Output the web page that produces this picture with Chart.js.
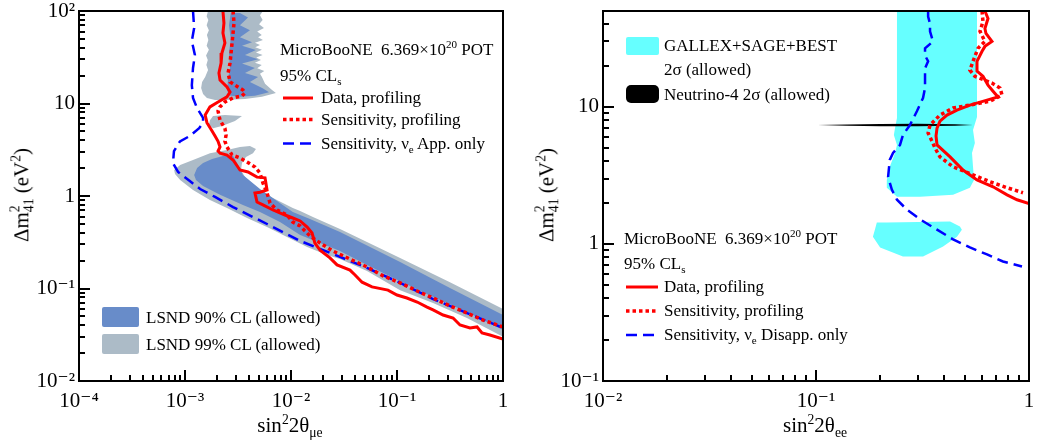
<!DOCTYPE html>
<html>
<head>
<meta charset="utf-8">
<script src="https://cdn.jsdelivr.net/npm/chart.js@4.4.1/dist/chart.umd.min.js"></script>
<style>
  body { margin: 0; background: #fff; }
  #wrap { position: relative; width: 1040px; height: 446px; overflow: hidden;
          font-family: 'Liberation Serif', 'Times New Roman', serif; color: #000; }
  canvas { position: absolute; top: 0; }
  .t { position: absolute; white-space: nowrap; font-size: 17px; line-height: 17px; }
  .ax { position: absolute; white-space: nowrap; font-size: 21px; line-height: 21px; }
  sup, sub { font-size: 65%; line-height: 0; }
  .ss { display: inline-block; vertical-align: -5px; font-size: 65%; line-height: 1; text-align: left; }
  .ss span { display: block; }
  .sw { position: absolute; }
  .key { position: absolute; left: 0; top: 0; pointer-events: none; }
</style>
</head>
<body>
<div id="wrap">
  <canvas id="appChart" width="520" height="446" style="left:0"></canvas>
  <canvas id="disChart" width="520" height="446" style="left:520px"></canvas>

  <!-- axis titles -->
  <div class="ax" style="left:22px;top:195px;transform:translate(-50%,-50%) rotate(-90deg)">&Delta;m<span class="ss"><span>2</span><span>41</span></span> (eV<sup>2</sup>)</div>
  <div class="ax" style="left:547px;top:195px;transform:translate(-50%,-50%) rotate(-90deg)">&Delta;m<span class="ss"><span>2</span><span>41</span></span> (eV<sup>2</sup>)</div>
  <div class="ax" style="left:290px;top:415px;transform:translateX(-50%)">sin<sup>2</sup>2&theta;<sub>&mu;e</sub></div>
  <div class="ax" style="left:815px;top:415px;transform:translateX(-50%)">sin<sup>2</sup>2&theta;<sub>ee</sub></div>

  <!-- left legend -->
  <div class="t" style="left:280px;top:41px">MicroBooNE&nbsp;&nbsp;6.369&times;10<sup>20</sup> POT</div>
  <div class="t" style="left:280px;top:67px">95% CL<sub>s</sub></div>
  <div class="t" style="left:321px;top:89px">Data, profiling</div>
  <div class="t" style="left:321px;top:111px">Sensitivity, profiling</div>
  <div class="t" style="left:321px;top:135px">Sensitivity, &nu;<sub>e</sub> App. only</div>
  <div class="sw" style="left:102px;top:307px;width:37px;height:20px;background:rgb(104,140,201);border-radius:2px"></div>
  <div class="t" style="left:146px;top:309px">LSND 90% CL (allowed)</div>
  <div class="sw" style="left:102px;top:334px;width:37px;height:20px;background:rgb(172,187,199);border-radius:2px"></div>
  <div class="t" style="left:146px;top:336px">LSND 99% CL (allowed)</div>

  <!-- right legend -->
  <div class="sw" style="left:626px;top:37px;width:33px;height:18px;background:rgb(102,255,255);border-radius:2px"></div>
  <div class="t" style="left:664px;top:37px">GALLEX+SAGE+BEST</div>
  <div class="t" style="left:664px;top:61px">2&sigma; (allowed)</div>
  <div class="sw" style="left:626px;top:85px;width:33px;height:18px;background:#000;border-radius:5px"></div>
  <div class="t" style="left:664px;top:86px">Neutrino-4 2&sigma; (allowed)</div>
  <div class="t" style="left:624px;top:230px">MicroBooNE&nbsp;&nbsp;6.369&times;10<sup>20</sup> POT</div>
  <div class="t" style="left:624px;top:255px">95% CL<sub>s</sub></div>
  <div class="t" style="left:664px;top:278px">Data, profiling</div>
  <div class="t" style="left:664px;top:302px">Sensitivity, profiling</div>
  <div class="t" style="left:664px;top:326px">Sensitivity, &nu;<sub>e</sub> Disapp. only</div>

  <svg class="key" id="key" width="1040" height="446">
    <line x1="283" y1="98" x2="313" y2="98" stroke="#ff0000" stroke-width="3"/>
    <line x1="283" y1="119.5" x2="313" y2="119.5" stroke="#ff0000" stroke-width="3.5" stroke-dasharray="3.5 3"/>
    <line x1="283" y1="143.5" x2="313" y2="143.5" stroke="#0000ff" stroke-width="2.5" stroke-dasharray="11 6"/>
    <line x1="626" y1="287" x2="658" y2="287" stroke="#ff0000" stroke-width="3"/>
    <line x1="626" y1="311" x2="658" y2="311" stroke="#ff0000" stroke-width="3.5" stroke-dasharray="3.5 3"/>
    <line x1="626" y1="335" x2="658" y2="335" stroke="#0000ff" stroke-width="2.5" stroke-dasharray="11 6"/>
  </svg>
</div>

<script>
// ---- nu_e appearance panel (sin^2 2theta_mue, dm2_41) ----
const lsnd99Band = [[7.9e-4,1.91],[9.0e-4,2.16],[1.19e-3,2.45],[1.72e-3,2.9],[2.49e-3,3.14],[3.3e-3,3.39],
  [4.1e-3,3.47],[4.67e-3,3.22],[4.38e-3,2.9],[3.76e-3,2.64],[3.45e-3,2.27],[3.37e-3,1.91],[3.68e-3,1.6],
  [4.78e-3,1.22],[6.76e-3,0.95],[1.04e-2,0.741],[1.22e-2,0.689],[1.61e-2,0.593],[2.9e-2,0.44],[0.107,0.214],
  [0.316,0.117],[1.0,0.06],[1.0,0.03],[0.457,0.048],[0.219,0.0697],[0.107,0.096],[5.21e-2,0.155],
  [2.9e-2,0.208],[2.19e-2,0.23],[1.42e-2,0.281],[9.17e-3,0.36],[5.94e-3,0.462],[3.85e-3,0.578],
  [2.49e-3,0.741],[1.72e-3,0.906],[1.19e-3,1.16],[9.0e-4,1.49],[8.05e-4,1.73]];
const lsnd99Top = [[1.65e-3,100],[1.6e-3,88],[1.66e-3,80],[1.6e-3,70],[1.68e-3,62],[1.61e-3,55],
  [1.66e-3,48.5],[1.6e-3,42],[1.68e-3,38],[1.58e-3,33],[1.64e-3,29.5],[1.59e-3,26],[1.65e-3,23],
  [1.55e-3,19.3],[1.45e-3,17.1],[1.42e-3,14.7],[1.48e-3,12.7],[1.61e-3,11.5],[1.92e-3,10.9],[2.38e-3,10.9],
  [3.68e-3,11.2],[5.32e-3,11.8],[7.21e-3,13.0],[6.62e-3,14.0],[5.69e-3,16.3],[5.32e-3,19.3],[5.1e-3,21],
  [5.6e-3,22.5],[4.8e-3,24],[5.3e-3,26],[4.57e-3,27.5],[5.21e-3,29.5],[4.7e-3,31.5],[5.4e-3,33.4],
  [4.67e-3,35.5],[5.32e-3,38],[4.6e-3,40.5],[5.1e-3,42.9],[4.57e-3,45.5],[5.44e-3,48.5],[4.89e-3,52],
  [5.3e-3,55],[4.8e-3,60],[5.56e-3,65.5],[5.0e-3,72],[5.4e-3,80],[5.1e-3,90],[5.44e-3,100]];
const lsnd99Sliver = [[1.72e-3,6.6],[1.84e-3,7.33],[2.38e-3,7.5],[3.45e-3,7.33],[2.96e-3,6.47],
  [2.23e-3,5.71],[1.84e-3,5.4],[1.68e-3,5.9]];
const lsnd90Band = [[1.22e-3,1.69],[1.3e-3,2.01],[1.48e-3,2.27],[1.8e-3,2.51],[2.28e-3,2.7],[2.84e-3,2.7],
  [3.1e-3,2.27],[3.52e-3,1.69],[5.1e-3,1.19],[7.38e-3,0.883],[1.04e-2,0.671],[1.51e-2,0.564],[2.9e-2,0.408],
  [0.107,0.193],[0.316,0.101],[1.0,0.0517],[1.0,0.0356],[0.457,0.0557],[0.219,0.081],[0.107,0.12],
  [5.21e-2,0.18],[2.9e-2,0.254],[1.88e-2,0.31],[1.22e-2,0.379],[7.87e-3,0.523],[5.1e-3,0.671],[3.52e-3,0.8],
  [2.14e-3,1.03],[1.48e-3,1.28],[1.27e-3,1.49]];
const lsnd90Top = [[2.7e-3,95],[2.6e-3,70],[2.7e-3,50],[2.6e-3,35],[2.66e-3,24],[2.55e-3,19],[2.5e-3,14],
  [2.6e-3,12.2],[3.3e-3,11.8],[4.57e-3,12.1],[6.2e-3,13.2],[5.4e-3,14.6],[4.1e-3,17.1],[4.89e-3,19.3],
  [3.68e-3,21.4],[4.57e-3,24.2],[3.45e-3,27],[4.89e-3,30],[3.68e-3,33.4],[4.67e-3,37.9],[3.45e-3,42],
  [4.29e-3,46],[3.3e-3,52],[4.1e-3,62],[3.3e-3,70],[3.93e-3,85],[3.3e-3,95]];
const appData = [[2.28e-3,100],[2.33e-3,74.1],[2.28e-3,57.8],[2.38e-3,45.1],[2.23e-3,35.2],[2.19e-3,27.4],
  [2.09e-3,21.4],[2.14e-3,17.9],[2.49e-3,15.1],[2.66e-3,13.3],[2.49e-3,11.8],[2.05e-3,10.4],[1.72e-3,9.2],
  [1.55e-3,7.5],[1.61e-3,6.2],[1.8e-3,5.05],[1.92e-3,4.45],[2.05e-3,3.9],[2.14e-3,3.39],[2.05e-3,3.06],
  [2.14e-3,2.9],[2.49e-3,2.77],[2.84e-3,2.45],[3.3e-3,1.91],[3.93e-3,1.82],[4.78e-3,1.6],[5.69e-3,1.57],
  [5.94e-3,1.16],[5.1e-3,1.1],[4.57e-3,1.08],[4.78e-3,0.861],[5.44e-3,0.8],[6.76e-3,0.706],[8.78e-3,0.623],
  [1.04e-2,0.578],[1.22e-2,0.537],[1.42e-2,0.462],[1.58e-2,0.398],[1.68e-2,0.31],[1.88e-2,0.26],
  [2.33e-2,0.214],[2.72e-2,0.18],[3.6e-2,0.158],[4.02e-2,0.14],[4.68e-2,0.117],[5.81e-2,0.104],
  [8.22e-2,0.096],[0.1,0.085],[0.124,0.0789],[0.155,0.0714],[0.192,0.063],[0.219,0.0586],[0.272,0.0517],
  [0.338,0.048],[0.393,0.0403],[0.488,0.0374],[0.569,0.0384],[0.634,0.033],[0.753,0.0314],[1.0,0.0284]];
const appSens = [[2.84e-3,100],[2.9e-3,74.1],[2.84e-3,57.8],[2.78e-3,45.1],[2.72e-3,35.2],[2.66e-3,27.4],
  [2.55e-3,21.4],[2.66e-3,17.1],[3.16e-3,15.1],[3.52e-3,14.0],[3.68e-3,13.0],[3.45e-3,12.1],[2.84e-3,11.5],
  [2.38e-3,10.4],[2.14e-3,9.2],[2.05e-3,8.3],[2.14e-3,6.6],[2.38e-3,5.4],[2.44e-3,4.56],[2.38e-3,3.9],
  [2.49e-3,3.39],[2.78e-3,2.77],[3.3e-3,2.58],[3.85e-3,2.33],[4.57e-3,2.06],[5.1e-3,1.77],[5.44e-3,1.38],
  [5.94e-3,1.08],[6.34e-3,0.84],[7.38e-3,0.706],[9.17e-3,0.623],[1.04e-2,0.523],[1.22e-2,0.474],
  [1.51e-2,0.37],[1.88e-2,0.31],[2.49e-2,0.254],[3.6e-2,0.208],[5.21e-2,0.171],[7.38e-2,0.137],
  [0.107,0.115],[0.155,0.094],[0.219,0.0789],[0.316,0.0647],[0.457,0.0543],[0.648,0.0456],[1.0,0.0384]];
const appOnly = [[1.19e-3,100],[1.22e-3,65.5],[1.16e-3,47.4],[1.24e-3,33.4],[1.19e-3,24.2],[1.16e-3,15.8],
  [1.19e-3,11.5],[1.3e-3,8.9],[1.48e-3,7.0],[1.48e-3,6.2],[1.36e-3,5.4],[1.11e-3,4.45],[8.97e-4,3.9],
  [7.87e-4,3.06],[7.7e-4,2.27],[8.6e-4,1.82],[1.11e-3,1.45],[1.39e-3,1.19],[1.92e-3,0.976],[2.84e-3,0.76],
  [5.94e-3,0.498],[1.22e-2,0.327],[2.49e-2,0.236],[5.21e-2,0.167],[0.107,0.115],[0.219,0.0769],
  [0.457,0.0543],[1.0,0.0374]];

// ---- nu_e disappearance panel (sin^2 2theta_ee, dm2_41) ----
const gallexMain = [[0.24,50],[0.24,8.28],[0.235,7.0],[0.232,6.23],[0.24,5.27],[0.235,4.61],[0.222,3.65],
  [0.215,2.93],[0.215,2.57],[0.24,2.21],[0.308,2.21],[0.44,2.28],[0.528,2.57],[0.552,2.93],[0.546,3.65],
  [0.54,4.61],[0.557,5.45],[0.546,6.77],[0.57,8.42],[0.57,50]];
const gallexLow = [[0.193,1.43],[0.215,1.43],[0.426,1.46],[0.474,1.34],[0.484,1.27],[0.459,1.13],
  [0.395,0.957],[0.318,0.81],[0.256,0.81],[0.2,0.942],[0.185,1.13],[0.189,1.27]];
const neutrino4 = [[0.102,7.36],[0.14,7.44],[0.2,7.5],[0.3,7.52],[0.45,7.47],[0.546,7.38],[0.45,7.27],
  [0.3,7.21],[0.2,7.22],[0.14,7.28]];
const disData = [[0.621,50],[0.642,44.1],[0.621,37.3],[0.628,34.3],[0.67,30.0],[0.621,27.6],[0.602,25.4],
  [0.57,21.5],[0.57,18.2],[0.608,16.7],[0.642,14.4],[0.678,13.0],[0.715,11.8],[0.635,11.2],[0.528,10.3],
  [0.459,9.47],[0.412,8.71],[0.382,7.87],[0.37,7.0],[0.366,6.13],[0.37,5.27],[0.426,4.31],[0.49,3.46],
  [0.57,2.93],[0.678,2.61],[0.789,2.28],[0.879,2.1],[1.0,1.97]];
const disSens = [[0.602,50],[0.608,41.9],[0.589,35.5],[0.621,30.0],[0.576,26.7],[0.546,21.5],[0.528,18.5],
  [0.557,16.7],[0.67,14.9],[0.731,13.7],[0.747,12.2],[0.656,11.0],[0.528,10.3],[0.44,9.8],[0.382,8.71],
  [0.343,7.36],[0.336,6.44],[0.35,5.64],[0.362,5.01],[0.382,4.31],[0.44,3.65],[0.546,3.19],[0.656,2.84],
  [0.789,2.57],[0.937,2.36]];
const disOnly = [[0.336,50],[0.336,45.6],[0.343,40.5],[0.343,35.5],[0.354,30.0],[0.325,26.7],[0.325,23.7],
  [0.336,21.5],[0.325,19.1],[0.325,13.7],[0.318,11.6],[0.298,9.31],[0.276,7.36],[0.256,6.23],[0.248,5.27],
  [0.23,4.61],[0.222,4.1],[0.218,3.08],[0.227,2.49],[0.24,2.1],[0.267,1.78],[0.308,1.51],[0.37,1.27],
  [0.44,1.08],[0.528,0.942],[0.635,0.838],[0.755,0.744],[0.927,0.685]];

const grayLSND = 'rgb(172,187,199)';
const blueLSND = 'rgb(104,140,201)';
const cyanGa = 'rgb(102,255,255)';
const tickFont = { family: "'Liberation Serif', 'DejaVu Serif', serif", size: 21, lineHeight: 1 };

const supDigits = { '-': '\u207B', '0': '\u2070', '1': '\u00B9', '2': '\u00B2', '3': '\u00B3', '4': '\u2074' };
const isDecade = v => Math.abs(Math.log10(v) - Math.round(Math.log10(v))) < 1e-6;
function decadeLabel(v) {
  if (!isDecade(v)) return '';
  const r = Math.round(Math.log10(v));
  if (r === 0) return '1';
  if (r === 1) return '10';
  return '10' + String(r).split('').map(c => supDigits[c]).join('');
}

const pts = arr => arr.map(([x, y]) => ({ x, y }));
function area(arr, color, order) {
  return { data: pts(arr), showLine: true, fill: 'shape', backgroundColor: color,
           borderColor: 'rgba(0,0,0,0)', borderWidth: 1, pointRadius: 0, order };
}
function curve(arr, color, dash, width) {
  return { data: pts(arr), showLine: true, fill: false, borderColor: color, borderWidth: width,
           borderDash: dash, pointRadius: 0, order: 0 };
}

// frame box around the plot area
const frameBox = {
  id: 'frameBox',
  afterDraw(chart) {
    const { ctx, chartArea: a } = chart;
    ctx.save();
    ctx.strokeStyle = '#000';
    ctx.lineWidth = 2;
    ctx.strokeRect(a.left, a.top, a.right - a.left, a.bottom - a.top);
    ctx.restore();
  }
};

// inward ROOT-style ticks (left and bottom), placed from the chart's own scales
function addTicks(chart, offsetX) {
  const key = document.getElementById('key');
  const a = chart.chartArea;
  const mark = (x1, y1, x2, y2) => {
    const l = document.createElementNS('http://www.w3.org/2000/svg', 'line');
    l.setAttribute('x1', x1); l.setAttribute('y1', y1);
    l.setAttribute('x2', x2); l.setAttribute('y2', y2);
    l.setAttribute('stroke', '#000'); l.setAttribute('stroke-width', '2');
    key.appendChild(l);
  };
  for (const [scale, horiz] of [[chart.scales.x, true], [chart.scales.y, false]]) {
    const lo = Math.floor(Math.log10(scale.min)), hi = Math.ceil(Math.log10(scale.max));
    for (let e = lo; e <= hi; e++) {
      for (let k = 1; k < 10; k++) {
        const v = k * Math.pow(10, e);
        if (v < scale.min * 0.999 || v > scale.max * 1.001) continue;
        const p = Math.round(scale.getPixelForValue(v));
        const len = k === 1 ? 11 : 6;
        if (horiz) mark(offsetX + p, a.bottom, offsetX + p, a.bottom - len);
        else mark(offsetX + a.left, p, offsetX + a.left + len, p);
      }
    }
  }
}

function makePanel(id, xr, yr, yWidth, rightPad, datasets) {
  return new Chart(document.getElementById(id), {
    type: 'scatter',
    data: { datasets },
    options: {
      responsive: false,
      animation: false,
      devicePixelRatio: 1,
      events: [],
      layout: { padding: { top: 11, right: rightPad, left: 0, bottom: 0 } },
      plugins: { legend: { display: false }, tooltip: { enabled: false } },
      scales: {
        x: {
          type: 'logarithmic', min: xr[0], max: xr[1],
          grid: { display: false, drawTicks: false }, border: { display: false },
          ticks: { autoSkip: false, maxRotation: 0, padding: 10, color: '#000', font: tickFont, callback: decadeLabel },
          afterFit: s => { s.height = 65; s.paddingLeft = 0; s.paddingRight = 0; }
        },
        y: {
          type: 'logarithmic', min: yr[0], max: yr[1],
          grid: { display: false, drawTicks: false }, border: { display: false },
          ticks: { autoSkip: false, padding: 4, color: '#000', font: tickFont, callback: decadeLabel },
          afterFit: s => { s.width = yWidth; s.paddingTop = 0; s.paddingBottom = 0; }
        }
      }
    },
    plugins: [frameBox]
  });
}

const appChart = makePanel('appChart', [1e-4, 1], [1e-2, 100], 79, 17, [
  curve(appData, '#ff0000', [], 3),
  curve(appSens, '#ff0000', [3.5, 3], 3.5),
  curve(appOnly, '#0000ff', [11, 6], 2.5),
  area(lsnd90Band, blueLSND, 2),
  area(lsnd90Top, blueLSND, 2),
  area(lsnd99Band, grayLSND, 3),
  area(lsnd99Top, grayLSND, 3),
  area(lsnd99Sliver, grayLSND, 3)
]);

const disChart = makePanel('disChart', [1e-2, 1], [0.1, 50], 83, 11, [
  curve(disData, '#ff0000', [], 3),
  curve(disSens, '#ff0000', [3.5, 3], 3.5),
  curve(disOnly, '#0000ff', [11, 6], 2.5),
  area(neutrino4, '#000000', 2),
  area(gallexMain, cyanGa, 3),
  area(gallexLow, cyanGa, 3)
]);

addTicks(appChart, 0);
addTicks(disChart, 520);
</script>
</body>
</html>
